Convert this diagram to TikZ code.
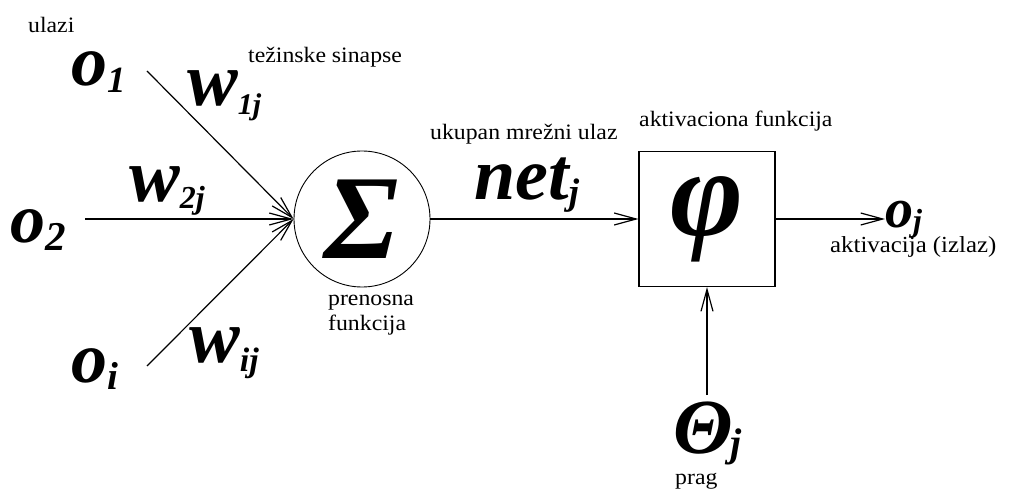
\documentclass[tikz,border=0pt]{standalone}
\usepackage{fontspec}
\setmainfont{Liberation Serif}
\newfontfamily\lblfont{Liberation Serif}[FakeStretch=1.08]
\usetikzlibrary{arrows.meta}
% big bold italic symbol with a lowered subscript
\newcommand{\bigsym}[5]{{\fontsize{#1}{#1}\selectfont #2}\raisebox{-#5pt}{\fontsize{#3}{#3}\selectfont #4}}

\begin{document}
\begin{tikzpicture}
    [x=1pt,y=-1pt,
     post/.style={-{Straight Barb[length=22pt,width=12pt]},line width=1.2pt},
     pre/.style={{Straight Barb[length=22pt,width=12pt]}-,line width=1.2pt},
     lbl/.style={anchor=base west,inner sep=0pt,font=\lblfont\fontsize{22}{25}\selectfont},
     sym/.style={anchor=base west,inner sep=0pt,font=\bfseries\itshape}]
    \useasboundingbox (0,0) rectangle (1017,489);
    \node [shape=circle,draw=black,line width=0.9pt,minimum size=136pt,inner sep=0pt] (sum) at (362,219)
      {\bfseries\itshape\fontsize{120}{120}\selectfont Σ};
    \node [shape=rectangle,draw=black,line width=1.1pt,minimum width=136pt,minimum height=135pt,inner sep=0pt] (phi) at (707,219)
      {\raisebox{-5pt}{\bfseries\itshape\fontsize{125}{125}\selectfont φ}}
      edge [pre] (sum);
    % inputs
    \node [sym] (o1) at (71,86) {\bigsym{72}{o}{37}{1}{7}};
    \node [sym] (o2) at (10,242) {\bigsym{70}{o}{41}{2}{8}};
    \node [sym] (oi) at (71,382) {\bigsym{72}{o}{39}{i}{7}};
    \coordinate (in1) at (147,71) edge [post] (sum.west);
    \coordinate (in2) at (85,219) edge [post] (sum.west);
    \coordinate (ini) at (147,366) edge [post] (sum.west);
    % weights
    \node [sym] (w1) at (187,106) {\bigsym{76}{w}{30}{1j}{9}};
    \node [sym] (w2) at (129,201) {\bigsym{76}{w}{32}{2j}{7}};
    \node [sym] (wi) at (189,362) {\bigsym{76}{w}{34}{ij}{9}};
    \node [sym] (net) at (474,200) {\bigsym{74}{net}{37}{j}{5}};
    % output and threshold
    \node [sym] (oj) at (885,227) {\bigsym{56}{o}{32}{j}{4}};
    \path (phi.east) edge [post] (phi.east -| oj.west);
    \node [sym] (theta) at (673,453) {\bigsym{78}{Θ\kern-2pt}{40}{j}{3}};
    \path (phi.south |- theta.north) edge [post,shorten <=6pt] (phi.south);
    % texts
    \node [lbl] (ulazi) at (28,33) {ulazi};
    \node [lbl] (sinapse) at (248,63) {težinske sinapse};
    \node [lbl] (netlbl) at (430,140) {ukupan mrežni ulaz};
    \node [lbl] (aktfun) at (639,127) {aktivaciona funkcija};
    \node [lbl,align=left] (prenos) at (328,330) {prenosna\\funkcija};
    \node [lbl,font=\lblfont\fontsize{23}{25}\selectfont] (izlaz) at (830,252) {aktivacija (izlaz)};
    \node [lbl] (prag) at (675,484) {prag};
  \end{tikzpicture}
\end{document}
